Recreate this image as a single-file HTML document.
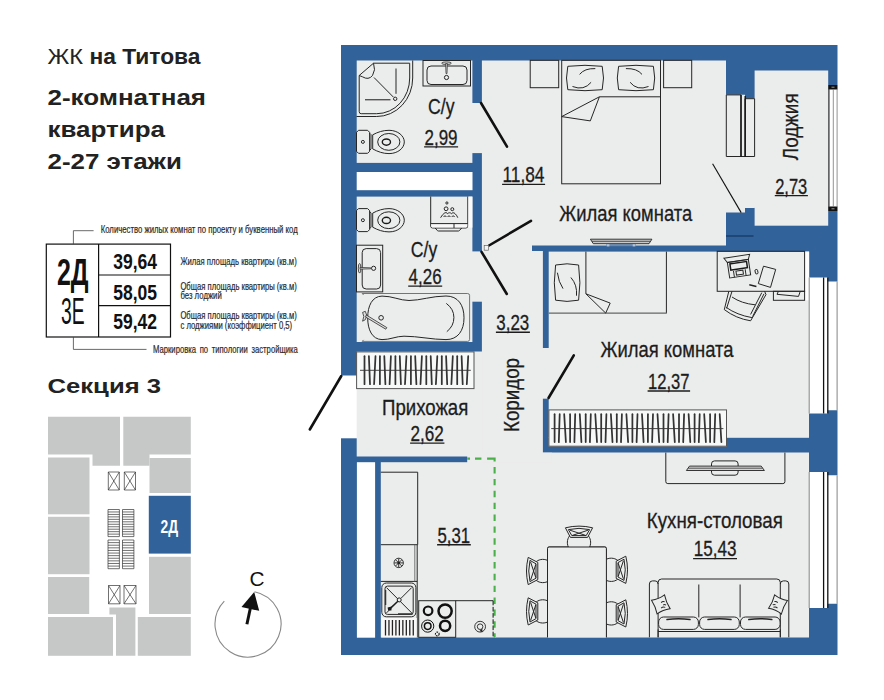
<!DOCTYPE html>
<html lang="ru">
<head>
<meta charset="utf-8">
<title>ЖК на Титова — 2-комнатная квартира</title>
<style>
html,body{margin:0;padding:0;background:#fff;}
body{width:884px;height:700px;overflow:hidden;font-family:"Liberation Sans",sans-serif;}
svg{display:block;}
text{font-family:"Liberation Sans",sans-serif;}
.w{fill:#31629a;}
.f{fill:#ebecec;}
.wh{fill:#fff;}
.ln{fill:none;stroke:#262626;stroke-width:1;}
.lt{fill:none;stroke:#555;stroke-width:0.8;}
.lf{fill:#ebecec;stroke:#262626;stroke-width:1;}
.lw{fill:#f7f8f8;stroke:#555;stroke-width:1;}
.dr{stroke:#111;stroke-width:2.6;stroke-linecap:round;fill:none;}
.rt{fill:#1c1c1c;stroke:#1c1c1c;stroke-width:0.3;}
.gr{fill:#c6c8c8;}
.hd{fill:#222;}
.tb{fill:#111;}
.sm{fill:#2a2a2a;stroke:#2a2a2a;stroke-width:0.2;}
.hg{stroke:#333;stroke-width:1.75;stroke-linecap:round;fill:none;}
</style>
</head>
<body>
<svg width="884" height="700" viewBox="0 0 884 700">
<rect width="884" height="700" fill="#fff"/>
<!-- ===== WALLS ===== -->
<g id="walls">
<rect class="w" x="341" y="45" width="496.5" height="610"/>
</g>
<!-- ===== FLOORS ===== -->
<g id="floors">
<rect class="wh" x="340" y="375.5" width="17.2" height="62.8"/>
<rect class="f" x="356.7" y="60.5" width="115.7" height="102.4"/>
<rect class="f" x="472" y="103" width="10.5" height="50.1"/>
<rect class="wh" x="356.7" y="172" width="115.8" height="18.2"/>
<rect class="f" x="356.7" y="196.6" width="115.7" height="145.4"/>
<rect class="f" x="472" y="251.4" width="10.5" height="50.3"/>
<rect class="f" x="481.9" y="60.5" width="244.1" height="185"/>
<rect class="f" x="481.9" y="251" width="61" height="209"/>
<rect class="f" x="481.9" y="245" width="50.1" height="8"/>
<rect class="f" x="356.7" y="351.5" width="126" height="105"/>
<rect class="wh" x="356.9" y="462.2" width="18.2" height="175.5"/>
<rect class="f" x="380.8" y="462.2" width="115" height="175.3"/>
<rect class="f" x="467.2" y="455" width="29" height="10"/>
<rect class="f" x="495" y="452.5" width="314" height="185"/>
<rect class="f" x="481.9" y="452.7" width="70" height="10"/>
<rect class="f" x="548.7" y="251.6" width="260.3" height="186.2"/>
<rect class="f" x="548.7" y="437" width="178" height="9.5"/>
<rect class="f" x="542" y="348" width="9" height="50.7"/>
<rect class="f" x="754.6" y="70.5" width="73.6" height="155.2"/>
<path class="f" d="M726,94.8H745V98.6H754.8V208H745V212.4H726Z"/>
<rect class="wh" x="804.6" y="251.6" width="4.6" height="48.7"/>
<rect class="f" x="753" y="99" width="3" height="108.6"/>
<line x1="726" y1="236" x2="753.5" y2="236" stroke="#0d2c55" stroke-width="1"/>
</g>
<!-- ===== WINDOWS ===== -->
<g id="windows">
<rect class="wh" x="828.2" y="85" width="11" height="126"/>
<rect x="828.2" y="85" width="9.3" height="4.5" fill="#111"/>
<rect x="828.2" y="206.5" width="9.3" height="4.5" fill="#111"/>
<rect x="831.5" y="86.7" width="3" height="1" fill="#999"/>
<rect x="831.5" y="208.3" width="3" height="1" fill="#999"/>
<line x1="828.9" y1="89" x2="828.9" y2="207" stroke="#444" stroke-width="1.4"/>
<line x1="833.3" y1="89" x2="833.3" y2="207" stroke="#777" stroke-width="0.8"/>
<line x1="837.1" y1="89" x2="837.1" y2="207" stroke="#777" stroke-width="0.8"/>
<path class="wh" d="M809,277.5H827.5V281.5H839V410.3H827.5V413.5H809Z"/>
<line x1="809.2" y1="277.5" x2="809.2" y2="413.5" stroke="#777" stroke-width="0.9"/>
<line x1="823.6" y1="277.5" x2="823.6" y2="413.5" stroke="#111" stroke-width="1.3"/>
<line x1="827.8" y1="277.5" x2="827.8" y2="413.5" stroke="#111" stroke-width="1.3"/>
<line x1="837.1" y1="281.5" x2="837.1" y2="410.3" stroke="#777" stroke-width="0.9"/>
<path class="wh" d="M809,472H827.5V475.3H839V603.8H827.5V608H809Z"/>
<line x1="809.2" y1="472" x2="809.2" y2="608" stroke="#777" stroke-width="0.9"/>
<line x1="823.6" y1="472" x2="823.6" y2="608" stroke="#111" stroke-width="1.3"/>
<line x1="827.8" y1="472" x2="827.8" y2="608" stroke="#111" stroke-width="1.3"/>
<line x1="837.1" y1="475.3" x2="837.1" y2="603.8" stroke="#777" stroke-width="0.9"/>
</g>
<!-- ===== DOORS ===== -->
<g id="doors">
<line class="dr" x1="341.3" y1="376" x2="309.8" y2="429.5"/>
<line class="dr" x1="481" y1="103" x2="507" y2="146.7"/>
<line class="dr" x1="489" y1="245.5" x2="531" y2="220.8"/>
<line class="dr" x1="481.5" y1="251.8" x2="506.8" y2="294"/>
<rect x="484.2" y="245.6" width="4.4" height="4.6" fill="#f4f4f4" stroke="#666" stroke-width="0.7"/>
<line class="dr" x1="548.5" y1="398" x2="573.8" y2="355.3"/>
<line x1="712.6" y1="163.8" x2="741.2" y2="212.6" stroke="#111" stroke-width="1.1"/>
<path class="lf" d="M726.3,94.9H741V156.5H726.3Z"/>
<path class="lf" d="M745,98.7H754.6V156.5H745Z"/>
<line x1="741" y1="94.9" x2="741" y2="156.5" stroke="#111" stroke-width="1.4"/>
<line x1="745.2" y1="96" x2="745.2" y2="156.5" stroke="#111" stroke-width="1.4"/>
<line x1="741" y1="156.5" x2="745.2" y2="156.5" stroke="#111" stroke-width="0.9"/>
</g>
<!-- ===== FURNITURE: bath 1 ===== -->
<g id="bath1">
<path class="ln" d="M412.7,60.5V78A36,38.5 0 0 1 376.7,116.5H356.5"/>
<path class="ln" d="M409.7,63.2V78A33,35.7 0 0 1 376.7,113.7H361.2Q359.2,113.7 359.2,111.7V75.5L373.5,63.2Z"/>
<path class="ln" d="M373.5,63.2Q376,70 372.5,75.5Q368.5,80.5 362.5,76.8L359.2,75.5"/>
<line class="ln" x1="374" y1="77.5" x2="393.3" y2="97"/>
<line class="ln" x1="396" y1="68.5" x2="396" y2="93.8"/>
<line x1="365" y1="99.7" x2="390.5" y2="99.7" stroke="#555" stroke-width="1.4"/>
<circle class="ln" cx="395.2" cy="98.8" r="1.7"/>
<rect class="ln" x="423" y="60.5" width="47.5" height="25.5"/>
<rect class="ln" x="427" y="66" width="40" height="18.5" rx="4" ry="4"/>
<ellipse cx="446.5" cy="63.2" rx="4.8" ry="1.3" fill="#ddd" stroke="#2a2a2a" stroke-width="0.8"/>
<path d="M445.6,63.5L446,73.6H447L447.4,63.5Z" fill="#ccc" stroke="#2a2a2a" stroke-width="0.7"/>
<circle class="ln" cx="446.5" cy="77.5" r="2.1"/>
</g>
<g id="toilets">
<g transform="translate(0,0.0)">
<path class="ln" d="M358.5,130.3H367.6L369.6,132.3V151.3L367.6,153.3H358.5L356.5,151.3V132.3Z"/>
<circle class="ln" cx="362.9" cy="141.9" r="1.5" stroke-width="0.8"/>
<path class="ln" d="M369.6,133.2L371,134.6V149L369.6,150.4M372.7,134.8V148.9"/>
<path class="ln" d="M372.7,134.8C378,132 383,130.3 389,130.3C398,130.3 404.3,136 404.3,141.9C404.3,148 398,153.6 389,153.6C383,153.6 378,151.8 372.7,148.9"/>
<ellipse class="ln" cx="388.8" cy="141.9" rx="11.1" ry="8.4"/>
<ellipse cx="386.4" cy="142.1" rx="4.1" ry="3.1" fill="none" stroke="#1a1a1a" stroke-width="1.4"/>
</g>
<g transform="translate(0,78.3)">
<path class="ln" d="M358.5,130.3H367.6L369.6,132.3V151.3L367.6,153.3H358.5L356.5,151.3V132.3Z"/>
<circle class="ln" cx="362.9" cy="141.9" r="1.5" stroke-width="0.8"/>
<path class="ln" d="M369.6,133.2L371,134.6V149L369.6,150.4M372.7,134.8V148.9"/>
<path class="ln" d="M372.7,134.8C378,132 383,130.3 389,130.3C398,130.3 404.3,136 404.3,141.9C404.3,148 398,153.6 389,153.6C383,153.6 378,151.8 372.7,148.9"/>
<ellipse class="ln" cx="388.8" cy="141.9" rx="11.1" ry="8.4"/>
<ellipse cx="386.4" cy="142.1" rx="4.1" ry="3.1" fill="none" stroke="#1a1a1a" stroke-width="1.4"/>
</g>
</g>
<!-- ===== bath 2 ===== -->
<g id="bath2">
<path class="ln" d="M430.7,196.5V226Q430.7,228 432.7,228H465.8Q467.8,228 467.8,226V196.5"/>
<path d="M431.2,223.6H467.3V226.4L466.4,227.6H432.2L431.2,226.4Z" fill="#f9f9f9"/>
<line class="ln" x1="430.7" y1="223.6" x2="467.8" y2="223.6"/>
<line class="ln" x1="454" y1="223.6" x2="454" y2="228"/>
<path class="ln" d="M435.2,228L437.4,230.6Q437.8,231 438.4,231H458.4Q459,231 459.4,230.6L461.7,228"/>
<rect x="468.4" y="196.6" width="4" height="31" fill="#fafafa"/>
<circle class="ln" cx="446.9" cy="203" r="1.1" stroke-width="0.8"/>
<circle class="ln" cx="446.1" cy="208.8" r="1.9" stroke-width="0.8"/>
<circle class="ln" cx="452.3" cy="209.2" r="1.5" stroke-width="0.8"/>
<path class="ln" stroke-width="0.85" d="M440.6,217.7Q442.3,214.6 444,213.5A2.3,2.3 0 0 1 447.7,213.7A2.3,2.3 0 0 1 451.4,213.7A2.3,2.3 0 0 1 455,213.6Q456.6,215 457.8,217.7"/>
<path class="ln" stroke-width="0.85" d="M443.6,216.9A1.5,1.5 0 0 1 446.4,216.9M447.6,216.9A1.5,1.5 0 0 1 450.4,216.9M451.8,216.9A1.5,1.5 0 0 1 454.6,216.9"/>
<rect class="ln" x="356.5" y="245.2" width="26.2" height="46.7"/>
<rect class="ln" x="362.2" y="248.6" width="18.4" height="40.4" rx="4" ry="4"/>
<ellipse cx="359.6" cy="268.3" rx="1.3" ry="4.8" fill="#ddd" stroke="#2a2a2a" stroke-width="0.8"/>
<path d="M360,267.4L370.8,267.8V268.8L360,269.2Z" fill="#ccc" stroke="#2a2a2a" stroke-width="0.7"/>
<circle class="ln" cx="373.6" cy="268.3" r="2.1"/>
<path class="lt" d="M362.2,293.5H467.6Q469.6,293.5 469.6,295.5V339.4Q469.6,341.4 467.6,341.4H362.2M362.2,293.5L363.6,295M362.2,341.4L363.6,339.9"/>
<path class="ln" d="M367.7,317.8C367.7,306 372,296.3 382,296.1C392,295.9 400,300.5 409,300.5C420,300.5 432,296 446,296C458,296 464,305 464,317.8C464,330.6 458,339.6 446,339.6C432,339.6 418,336.2 404,336.2C396,336.2 390,339.8 382,339.6C372,339.4 367.7,329.6 367.7,317.8Z"/>
<path class="ln" d="M446.3,303.4Q453.9,309 453.9,317.5Q453.9,326 446.8,331.7"/>
<circle class="ln" cx="381.1" cy="317.8" r="2.3"/>
<path d="M362.6,312.4L365.3,311.3L366.8,315.5L365.3,319.7L362.6,321.2L363.8,316.5Z" fill="#ddd" stroke="#2a2a2a" stroke-width="0.8"/>
<path d="M366.3,315L386.8,327.6L385.8,329.2L365.6,317Z" fill="#ddd" stroke="#2a2a2a" stroke-width="0.8"/>
</g>
<!-- ===== wardrobes ===== -->
<g id="wardrobes">
<rect class="lw" x="356.6" y="351.9" width="117.4" height="36.7"/>
<line x1="360" y1="370.3" x2="470.8" y2="370.3" stroke="#333" stroke-width="0.9"/>
<g class="hg"><line x1="364.5" y1="356.2" x2="364.5" y2="384.2"/><line x1="368.9" y1="356.2" x2="370.0" y2="384.2"/><line x1="375.5" y1="356.2" x2="374.1" y2="384.2"/><line x1="379.9" y1="356.2" x2="379.9" y2="384.2"/><line x1="384.3" y1="356.2" x2="385.4" y2="384.2"/><line x1="390.9" y1="356.2" x2="389.6" y2="384.2"/><line x1="395.4" y1="356.2" x2="395.4" y2="384.2"/><line x1="399.8" y1="356.2" x2="400.9" y2="384.2"/><line x1="406.4" y1="356.2" x2="405.0" y2="384.2"/><line x1="410.9" y1="356.2" x2="410.9" y2="384.2"/><line x1="415.2" y1="356.2" x2="416.4" y2="384.2"/><line x1="421.9" y1="356.2" x2="420.5" y2="384.2"/><line x1="426.3" y1="356.2" x2="426.3" y2="384.2"/><line x1="430.7" y1="356.2" x2="431.8" y2="384.2"/><line x1="437.3" y1="356.2" x2="435.9" y2="384.2"/><line x1="441.8" y1="356.2" x2="441.8" y2="384.2"/><line x1="446.1" y1="356.2" x2="447.2" y2="384.2"/><line x1="452.8" y1="356.2" x2="451.4" y2="384.2"/><line x1="457.2" y1="356.2" x2="457.2" y2="384.2"/><line x1="461.6" y1="356.2" x2="462.7" y2="384.2"/><line x1="468.2" y1="356.2" x2="466.8" y2="384.2"/></g>
<rect class="lw" x="548.9" y="409.9" width="177.6" height="36.3"/>
<line x1="551.2" y1="428.6" x2="723.4" y2="428.6" stroke="#333" stroke-width="0.9"/>
<g class="hg"><line x1="554.6" y1="414.2" x2="554.6" y2="442.1"/><line x1="559.7" y1="414.2" x2="558.8" y2="442.1"/><line x1="564.2" y1="414.2" x2="565.9" y2="442.1"/><line x1="570.1" y1="414.2" x2="570.1" y2="442.1"/><line x1="575.2" y1="414.2" x2="574.4" y2="442.1"/><line x1="579.8" y1="414.2" x2="581.4" y2="442.1"/><line x1="585.7" y1="414.2" x2="585.7" y2="442.1"/><line x1="590.8" y1="414.2" x2="589.9" y2="442.1"/><line x1="595.3" y1="414.2" x2="597.0" y2="442.1"/><line x1="601.2" y1="414.2" x2="601.2" y2="442.1"/><line x1="606.4" y1="414.2" x2="605.5" y2="442.1"/><line x1="610.9" y1="414.2" x2="612.5" y2="442.1"/><line x1="616.8" y1="414.2" x2="616.8" y2="442.1"/><line x1="621.9" y1="414.2" x2="621.0" y2="442.1"/><line x1="626.4" y1="414.2" x2="628.1" y2="442.1"/><line x1="632.4" y1="414.2" x2="632.4" y2="442.1"/><line x1="637.5" y1="414.2" x2="636.6" y2="442.1"/><line x1="642.0" y1="414.2" x2="643.6" y2="442.1"/><line x1="647.9" y1="414.2" x2="647.9" y2="442.1"/><line x1="653.0" y1="414.2" x2="652.1" y2="442.1"/><line x1="657.5" y1="414.2" x2="659.2" y2="442.1"/><line x1="663.5" y1="414.2" x2="663.5" y2="442.1"/><line x1="668.6" y1="414.2" x2="667.7" y2="442.1"/><line x1="673.1" y1="414.2" x2="674.8" y2="442.1"/><line x1="679.0" y1="414.2" x2="679.0" y2="442.1"/><line x1="684.1" y1="414.2" x2="683.2" y2="442.1"/><line x1="688.6" y1="414.2" x2="690.3" y2="442.1"/><line x1="694.6" y1="414.2" x2="694.6" y2="442.1"/><line x1="699.7" y1="414.2" x2="698.8" y2="442.1"/><line x1="704.2" y1="414.2" x2="705.9" y2="442.1"/><line x1="710.1" y1="414.2" x2="710.1" y2="442.1"/><line x1="715.2" y1="414.2" x2="714.3" y2="442.1"/><line x1="719.7" y1="414.2" x2="721.4" y2="442.1"/></g>
</g>
<!-- ===== room 1 ===== -->
<g id="room1">
<rect class="ln" x="530.2" y="60.3" width="28.5" height="27.4"/>
<rect class="ln" x="663.6" y="60.3" width="28.1" height="27.4"/>
<rect class="ln" x="561.7" y="60.3" width="98.8" height="123.5"/>
<path class="ln" d="M567.8,66.3Q585.0,64.3 602.2,66.3Q604.8,78.0 602.2,89.7Q585.0,91.7 567.8,89.7Q565.2,78.0 567.8,66.3Z"/>
<path class="ln" d="M618.6,66.3Q636.0,64.3 653.4,66.3Q656.0,78.0 653.4,89.7Q636.0,91.7 618.6,89.7Q616.0,78.0 618.6,66.3Z"/>
<path class="ln" d="M579.6,74.4Q584.5,68.2 595.3,68.6M572.5,86.5Q584,91 591.1,82.3"/>
<path class="ln" d="M642,74.4Q637,68.2 625.9,68.6M648.5,86.5Q637,91 630.1,82.3"/>
<path class="ln" d="M660.5,96.8H599.4L561.7,116.6L590.3,120.9L599.4,96.8"/>
<path d="M590.4,239.2H651.9L649,243.7H593.3Z" fill="#c9c9c9" stroke="#222" stroke-width="0.9" stroke-linejoin="round"/>
<line x1="592" y1="241.3" x2="650.4" y2="241.3" stroke="#333" stroke-width="0.8"/>
<rect x="606.3" y="244" width="29.5" height="2.2" fill="#6e89a8"/>
<rect x="606.8" y="244.2" width="2.6" height="2.2" fill="#b9c4d2"/><rect x="632.7" y="244.2" width="2.6" height="2.2" fill="#b9c4d2"/>
</g>
<!-- ===== room 2 ===== -->
<g id="room2">
<path class="ln" d="M666.4,251.6V313.1"/>
<line x1="548.7" y1="313.1" x2="666.8" y2="313.1" stroke="#666" stroke-width="1.1"/>
<path class="ln" d="M585.9,251.6V293.8M585.9,293.8L610.2,303.1L605.7,313.1Z"/>
<path class="ln" d="M555.6,265Q567,262.6 578.6,265Q581.2,283 578.6,300.2Q567,302.6 555.6,300.2Q553,283 555.6,265Z"/>
<path class="ln" d="M557.4,272.7Q558.5,282 563,288.6M570.9,277.5Q577.5,285 576.5,295.7"/>
<rect class="ln" x="717.2" y="251.3" width="87.4" height="40"/>
<g transform="rotate(-8.5 738 266)">
<path class="ln" d="M725.2,256.2L751.2,256.2L749.2,261L728,261Z"/>
<rect class="ln" x="728" y="261" width="21.2" height="15.6"/>
<rect x="730.3" y="262.8" width="16.8" height="6.2" fill="#ebecec" stroke="#1a1a1a" stroke-width="1.5"/>
<rect class="ln" x="735.2" y="270.8" width="7" height="4" stroke-width="0.8"/>
<line class="ln" x1="732.8" y1="270.3" x2="732.8" y2="276.6" stroke-width="0.7"/><line class="ln" x1="744.6" y1="270.3" x2="744.6" y2="276.6" stroke-width="0.7"/>
</g>
<rect x="755.2" y="269.5" width="2.6" height="4.4" rx="1" fill="none" stroke="#1a1a1a" stroke-width="0.9" transform="rotate(-12 756.5 271.7)"/>
<path class="ln" d="M763.5,266.2L775.7,269.4L770.5,287.4L758.3,283.6Z"/>
<line x1="749.3" y1="284.8" x2="756.4" y2="286.4" stroke="#222" stroke-width="1.5"/>
<rect class="ln" x="773.4" y="291.3" width="31.2" height="9"/>
<path class="ln" d="M778.2,291.8L777,294.3L798.5,296.4L800.1,291.8" stroke-width="0.8"/>
<path class="ln" d="M728.8,291.3L724.3,309.6Q736,318.5 750.6,320.8L766,294.6L764.6,291.3"/>
<path class="ln" d="M732,297Q741.5,303.5 755.1,304.8M726.2,307.4Q737,315 751.9,317.6M732,291.3L726.6,308.4"/>
<path class="ln" d="M764,293.8L752.6,316.6M761.8,292.6L750.6,314.4"/>
</g>
<!-- ===== kitchen ===== -->
<g id="kitchen">
<path d="M467.2,458.6H470M475,458.6H481.4M487.1,458.6H494.6V461.6" fill="none" stroke="#4bb04a" stroke-width="2.1" stroke-linejoin="miter"/>
<path d="M494.6,467.1V637.4" fill="none" stroke="#4bb04a" stroke-width="2.1" stroke-dasharray="6.4 5.46"/>
<path class="ln" d="M380.8,472.2H417.7V544.7H380.8"/>
<path class="ln" d="M417.2,544.7V637.3M380.8,581.4H417.2" />
<line class="lt" x1="414.8" y1="544.7" x2="414.8" y2="581.4"/>
<path d="M394.30,562.90L403.10,562.90M395.59,559.79L401.81,566.01M398.70,558.50L398.70,567.30M401.81,559.79L395.59,566.01" stroke="#222" stroke-width="0.9" fill="none"/>
<circle cx="398.7" cy="562.9" r="4.7" fill="none" stroke="#222" stroke-width="0.9"/>
<circle cx="398.7" cy="562.9" r="1.3" fill="#222"/>
<rect class="ln" x="381.8" y="583" width="34.1" height="33.8" rx="4.5" ry="4.5" stroke-width="1.1"/>
<rect class="ln" x="385" y="586.1" width="28.2" height="28.3" rx="2.5" ry="2.5"/>
<path class="ln" d="M386.5,587.6L411.7,612.9M411.7,587.6L401,598.3M397.3,602L386.5,612.9" stroke-width="0.8"/>
<path d="M385.6,590V605M398,614H412.6" stroke="#333" stroke-width="1.3" fill="none"/>
<circle cx="399.2" cy="599.9" r="2" fill="#ebecec" stroke="#1a1a1a" stroke-width="1"/>
<line x1="397.8" y1="601.3" x2="390" y2="608.4" stroke="#1a1a1a" stroke-width="1.3"/>
<path d="M387.6,607.4L391.6,606.6L391.4,610.6L388.2,610.6Z" fill="#1a1a1a"/>
<rect x="381.4" y="618" width="35.4" height="19.4" fill="#f8f8f8"/>
<path d="M385.50,620V635.6M388.97,620V635.6M392.44,620V635.6M395.91,620V635.6M399.38,620V635.6M402.85,620V635.6M406.32,620V635.6M409.79,620V635.6M413.26,620V635.6" stroke="#222" stroke-width="1.3" fill="none"/>
<rect class="ln" x="418.7" y="600.7" width="37" height="36.6"/>
<circle cx="428.1" cy="610.8" r="4.3" fill="none" stroke="#111" stroke-width="2.2"/>
<circle cx="445.1" cy="611.1" r="6.6" fill="none" stroke="#111" stroke-width="2.5"/>
<circle cx="427.7" cy="626.1" r="6.1" fill="none" stroke="#111" stroke-width="1"/>
<circle cx="427.7" cy="626.1" r="3.3" fill="none" stroke="#111" stroke-width="1.5"/>
<circle cx="445.1" cy="625.8" r="5.1" fill="none" stroke="#111" stroke-width="2.5"/>
<circle cx="437.3" cy="634" r="1.9" fill="#ebecec" stroke="#111" stroke-width="1.1" stroke-dasharray="1.6 0.8"/>
<path class="ln" d="M455.7,600.7H493.1"/>
<line x1="493.1" y1="600.7" x2="493.1" y2="637.3" stroke="#111" stroke-width="1" stroke-dasharray="4.6 1.6"/>
<circle cx="480.1" cy="626.7" r="5.4" fill="none" stroke="#222" stroke-width="0.9"/>
<circle cx="480.1" cy="626.7" r="2.8" fill="none" stroke="#222" stroke-width="0.9"/>
<path d="M482.2,628.6L482.6,632.2L479.6,631Z" fill="#222"/>
<path class="lf" d="M547.5,637.3V548.6Q547.5,547 549.1,547H604.8Q606.4,547 606.4,548.6V637.3"/>
<g transform="translate(579.0,526.2) rotate(0)">
<path class="lf" d="M-10.6,21C-12.6,16.5 -11.6,11.5 -8.4,8.6H8.4C11.6,11.5 12.6,16.5 10.6,21"/>
<path class="lf" d="M-13.6,1.6Q0,-1.8 13.6,1.6L8.6,11.2H-8.6Z"/>
<path class="ln" d="M-10.6,3.4Q0,0.9 10.6,3.4L7.2,9.4H-7.2Z" stroke-width="0.8"/>
<path class="ln" d="M-9,4L6.6,9.2M9,4L-6.6,9.2" stroke-width="0.7"/>
</g>
<g transform="translate(526.6,571.0) rotate(-90)">
<path class="lf" d="M-10.6,21C-12.6,16.5 -11.6,11.5 -8.4,8.6H8.4C11.6,11.5 12.6,16.5 10.6,21"/>
<path class="lf" d="M-13.6,1.6Q0,-1.8 13.6,1.6L8.6,11.2H-8.6Z"/>
<path class="ln" d="M-10.6,3.4Q0,0.9 10.6,3.4L7.2,9.4H-7.2Z" stroke-width="0.8"/>
<path class="ln" d="M-9,4L6.6,9.2M9,4L-6.6,9.2" stroke-width="0.7"/>
</g>
<g transform="translate(526.6,611.4) rotate(-90)">
<path class="lf" d="M-10.6,21C-12.6,16.5 -11.6,11.5 -8.4,8.6H8.4C11.6,11.5 12.6,16.5 10.6,21"/>
<path class="lf" d="M-13.6,1.6Q0,-1.8 13.6,1.6L8.6,11.2H-8.6Z"/>
<path class="ln" d="M-10.6,3.4Q0,0.9 10.6,3.4L7.2,9.4H-7.2Z" stroke-width="0.8"/>
<path class="ln" d="M-9,4L6.6,9.2M9,4L-6.6,9.2" stroke-width="0.7"/>
</g>
<g transform="translate(627.4,569.8) rotate(90)">
<path class="lf" d="M-10.6,21C-12.6,16.5 -11.6,11.5 -8.4,8.6H8.4C11.6,11.5 12.6,16.5 10.6,21"/>
<path class="lf" d="M-13.6,1.6Q0,-1.8 13.6,1.6L8.6,11.2H-8.6Z"/>
<path class="ln" d="M-10.6,3.4Q0,0.9 10.6,3.4L7.2,9.4H-7.2Z" stroke-width="0.8"/>
<path class="ln" d="M-9,4L6.6,9.2M9,4L-6.6,9.2" stroke-width="0.7"/>
</g>
<g transform="translate(627.4,613.4) rotate(90)">
<path class="lf" d="M-10.6,21C-12.6,16.5 -11.6,11.5 -8.4,8.6H8.4C11.6,11.5 12.6,16.5 10.6,21"/>
<path class="lf" d="M-13.6,1.6Q0,-1.8 13.6,1.6L8.6,11.2H-8.6Z"/>
<path class="ln" d="M-10.6,3.4Q0,0.9 10.6,3.4L7.2,9.4H-7.2Z" stroke-width="0.8"/>
<path class="ln" d="M-9,4L6.6,9.2M9,4L-6.6,9.2" stroke-width="0.7"/>
</g>
<path class="lf" d="M547.5,637.3V548.6Q547.5,547 549.1,547H604.8Q606.4,547 606.4,548.6V637.3"/>
<path class="ln" d="M665.8,452.6V481.6Q665.8,483.6 667.8,483.6H782.9Q784.9,483.6 784.9,481.6V452.6"/>
<rect class="ln" x="711.5" y="460.9" width="26.6" height="14.3" rx="3" ry="3"/>
<path d="M689.5,466.1H761.2L764.4,470.5H686.4Z" fill="#d4d4d4" stroke="#222" stroke-width="0.9" stroke-linejoin="round"/>
<line x1="688.3" y1="468.2" x2="762.6" y2="468.2" stroke="#333" stroke-width="0.8"/>
<path class="ln" d="M649.4,637.3V584Q649.4,580.9 652.4,580.9H655.1Q658.1,580.9 658.1,584"/>
<path class="ln" d="M788.8,637.3V584Q788.8,580.9 785.8,580.9H783.3Q780.3,580.9 780.3,584"/>
<path class="ln" d="M658.1,637.3V582.5Q658.1,579 661.6,579H776.8Q780.3,579 780.3,582.5V637.3"/>
<path class="ln" d="M698.8,584.5V617.4M740.1,584.5V617.4"/>
<rect class="lf" x="658.6" y="617" width="39.8" height="12.4" rx="5" ry="5"/>
<path d="M667.0,619.6Q678.5,617.9 690.0,619.6" fill="none" stroke="#222" stroke-width="1.5" stroke-linecap="round"/>
<rect class="lf" x="699.6" y="617" width="39.7" height="12.4" rx="5" ry="5"/>
<path d="M708.0,619.6Q719.5,617.9 731.0,619.6" fill="none" stroke="#222" stroke-width="1.5" stroke-linecap="round"/>
<rect class="lf" x="740.5" y="617" width="39.6" height="12.4" rx="5" ry="5"/>
<path d="M748.8,619.6Q760.3,617.9 771.8,619.6" fill="none" stroke="#222" stroke-width="1.5" stroke-linecap="round"/>
<path class="ln" d="M658.1,629.4V637.3M780.3,629.4V637.3M658.1,631.5H780.3"/>
<g transform="translate(660.8,604.4) rotate(-22)"><path class="lf" d="M-7,-7.4Q0,-5.6 7,-7.4Q5.6,0 7,7.4Q0,5.6 -7,7.4Q-5.6,0 -7,-7.4Z"/><path class="ln" d="M1,-1.5Q3,-2.5 4.5,-1M2,1.5Q3.5,1 4.6,2.6M-1,3.6Q1,2.6 3,4.4" stroke-width="0.7"/></g>
<g transform="translate(778,604.4) rotate(24)"><path class="lf" d="M-7,-7.4Q0,-5.6 7,-7.4Q5.6,0 7,7.4Q0,5.6 -7,7.4Q-5.6,0 -7,-7.4Z"/><path class="ln" d="M-1,-1.5Q-3,-2.5 -4.5,-1M-2,1.5Q-3.5,1 -4.6,2.6M1,3.6Q-1,2.6 -3,4.4" stroke-width="0.7"/></g>
</g>
<!-- ===== ROOM LABELS ===== -->
<g id="labels">
<text class="rt" x="428.0" y="114.0" font-size="22.0" textLength="26.5" lengthAdjust="spacingAndGlyphs">С/у</text>
<text class="rt" x="424.5" y="145.0" font-size="21.4" textLength="33.0" lengthAdjust="spacingAndGlyphs">2,99</text>
<line x1="424.1" y1="146.9" x2="458.1" y2="146.9" stroke="#1c1c1c" stroke-width="1.4"/>
<text class="rt" x="502.5" y="182.0" font-size="21.4" textLength="42.0" lengthAdjust="spacingAndGlyphs">11,84</text>
<line x1="502.1" y1="184.4" x2="545.1" y2="184.4" stroke="#1c1c1c" stroke-width="1.4"/>
<text class="rt" x="559.3" y="220.5" font-size="22.0" textLength="132.9" lengthAdjust="spacingAndGlyphs">Жилая комната</text>
<text class="rt" x="496.3" y="330.0" font-size="21.4" textLength="33.0" lengthAdjust="spacingAndGlyphs">3,23</text>
<line x1="495.9" y1="332.2" x2="529.9" y2="332.2" stroke="#1c1c1c" stroke-width="1.4"/>
<text class="rt" transform="translate(518.8,432.0) rotate(-90)" x="0" y="0" font-size="22.0" textLength="74.0" lengthAdjust="spacingAndGlyphs">Коридор</text>
<text class="rt" x="382.0" y="415.0" font-size="22.0" textLength="86.3" lengthAdjust="spacingAndGlyphs">Прихожая</text>
<text class="rt" x="410.5" y="440.8" font-size="21.4" textLength="33.3" lengthAdjust="spacingAndGlyphs">2,62</text>
<line x1="410.1" y1="443.1" x2="444.4" y2="443.1" stroke="#1c1c1c" stroke-width="1.4"/>
<text class="rt" x="600.5" y="357.3" font-size="22.0" textLength="133.0" lengthAdjust="spacingAndGlyphs">Жилая комната</text>
<text class="rt" x="648.0" y="388.5" font-size="21.4" textLength="41.5" lengthAdjust="spacingAndGlyphs">12,37</text>
<line x1="647.6" y1="391.0" x2="690.1" y2="391.0" stroke="#1c1c1c" stroke-width="1.4"/>
<text class="rt" x="646.8" y="528.2" font-size="22.0" textLength="136.0" lengthAdjust="spacingAndGlyphs">Кухня-столовая</text>
<text class="rt" x="693.8" y="556.1" font-size="21.4" textLength="42.6" lengthAdjust="spacingAndGlyphs">15,43</text>
<line x1="693.1" y1="558.6" x2="737.0" y2="558.6" stroke="#1c1c1c" stroke-width="1.4"/>
<text class="rt" transform="translate(798.1,160.2) rotate(-90)" x="0" y="0" font-size="22.5" textLength="66.8" lengthAdjust="spacingAndGlyphs">Лоджия</text>
<text class="rt" x="775.2" y="193.6" font-size="21.4" textLength="32.1" lengthAdjust="spacingAndGlyphs">2,73</text>
<line x1="774.8" y1="195.6" x2="807.9" y2="195.6" stroke="#1c1c1c" stroke-width="1.4"/>
<text class="rt" x="437.5" y="542.7" font-size="21.4" textLength="32.7" lengthAdjust="spacingAndGlyphs">5,31</text>
<line x1="437.1" y1="544.7" x2="470.8" y2="544.7" stroke="#1c1c1c" stroke-width="1.4"/>
<text class="rt" x="408.6" y="284.0" font-size="21.4" textLength="33.0" lengthAdjust="spacingAndGlyphs">4,26</text>
<line x1="408.2" y1="286.1" x2="442.2" y2="286.1" stroke="#1c1c1c" stroke-width="1.4"/>
<text class="rt" x="410.8" y="256.6" font-size="22.0" textLength="26.5" lengthAdjust="spacingAndGlyphs">С/у</text>
</g>
<!-- ===== LEFT PANEL ===== -->
<g id="panel">
<text class="hd" x="47.5" y="63.8" font-size="22.5" textLength="35.5" lengthAdjust="spacingAndGlyphs">ЖК</text>
<text class="hd" x="89.5" y="63.8" font-size="22.5" font-weight="bold" textLength="111.0" lengthAdjust="spacingAndGlyphs">на Титова</text>
<text class="hd" x="47.5" y="105.0" font-size="22.5" font-weight="bold" textLength="158.5" lengthAdjust="spacingAndGlyphs">2-комнатная</text>
<text class="hd" x="47.5" y="137.0" font-size="22.5" font-weight="bold" textLength="117.5" lengthAdjust="spacingAndGlyphs">квартира</text>
<text class="hd" x="47.5" y="168.8" font-size="22.5" font-weight="bold" textLength="134.3" lengthAdjust="spacingAndGlyphs">2-27 этажи</text>
<text class="hd" x="47.5" y="392.5" font-size="21.0" font-weight="bold" textLength="113.5" lengthAdjust="spacingAndGlyphs">Секция 3</text>
<rect x="46.3" y="244.1" width="124.2" height="92.9" fill="#fff" stroke="#111" stroke-width="1.2"/>
<path d="M98.6,244.1V337M98.6,275H170.5M98.6,305.7H170.5" stroke="#111" stroke-width="1.2" fill="none"/>
<path d="M93.6,230.7H73.4V244.1M73.4,337V349.4H146.5" stroke="#444" stroke-width="0.8" fill="none"/>
<text class="tb" x="57.0" y="285.2" font-size="36.5" font-weight="bold" textLength="31.6" lengthAdjust="spacingAndGlyphs">2Д</text>
<text class="tb" x="61.0" y="323.6" font-size="36.0" textLength="23.6" lengthAdjust="spacingAndGlyphs">3Е</text>
<text class="tb" x="113.2" y="269.1" font-size="21.3" font-weight="bold" textLength="43.8" lengthAdjust="spacingAndGlyphs">39,64</text>
<text class="tb" x="113.2" y="299.5" font-size="21.3" font-weight="bold" textLength="43.8" lengthAdjust="spacingAndGlyphs">58,05</text>
<text class="tb" x="113.2" y="328.9" font-size="21.3" font-weight="bold" textLength="43.8" lengthAdjust="spacingAndGlyphs">59,42</text>
<text class="sm" x="100.7" y="233.4" font-size="10.3" textLength="197.1" lengthAdjust="spacingAndGlyphs">Количество жилых комнат по проекту и буквенный код</text>
<text class="sm" x="180.4" y="264.9" font-size="10.3" textLength="116.3" lengthAdjust="spacingAndGlyphs">Жилая площадь квартиры (кв.м)</text>
<text class="sm" x="180.4" y="289.8" font-size="10.3" textLength="116.3" lengthAdjust="spacingAndGlyphs">Общая площадь квартиры (кв.м)</text>
<text class="sm" x="180.4" y="299.1" font-size="10.3" textLength="41.4" lengthAdjust="spacingAndGlyphs">без лоджий</text>
<text class="sm" x="180.4" y="319.0" font-size="10.3" textLength="116.3" lengthAdjust="spacingAndGlyphs">Общая площадь квартиры (кв.м)</text>
<text class="sm" x="180.4" y="328.7" font-size="10.3" textLength="111.8" lengthAdjust="spacingAndGlyphs">с лоджиями (коэффициент 0,5)</text>
<text class="sm" x="153.0" y="352.5" font-size="10.3" textLength="144.8" lengthAdjust="spacingAndGlyphs" word-spacing="2">Маркировка по типологии застройщика</text>
</g>
<!-- ===== SECTION PLAN ===== -->
<g id="section">
<path class="gr" d="M48,416.8H120V465.8H92.5V454.4H48Z"/>
<path class="gr" d="M123.3,416.8H190.8V454.4H149.5V465.8H123.3Z"/>
<rect class="gr" x="149.5" y="458" width="41.3" height="35"/>
<rect x="148.8" y="495.8" width="42" height="57.8" fill="#31629a"/>
<rect class="gr" x="149" y="556.8" width="41.8" height="57.2"/>
<rect class="gr" x="48" y="457.5" width="41.5" height="56.8"/>
<rect class="gr" x="48" y="516.8" width="41.5" height="57.4"/>
<rect class="gr" x="48" y="577" width="41.2" height="37"/>
<rect class="gr" x="48" y="617" width="65" height="38.8"/>
<path class="gr" d="M109.4,607.5H135.4V655.8H116V614.5H109.4Z"/>
<rect class="gr" x="137.8" y="617" width="53" height="38.8"/>
<path d="M108.3,472.0h11.0v18.0h-11.0ZM108.3,472.0l11.0,18.0M119.3,472.0l-11.0,18.0" fill="#fff" stroke="#333" stroke-width="0.7"/>
<path d="M124.3,472.0h11.2v18.0h-11.2ZM124.3,472.0l11.2,18.0M135.5,472.0l-11.2,18.0" fill="#fff" stroke="#333" stroke-width="0.7"/>
<path d="M108.5,585.5h11.5v18.3h-11.5ZM108.5,585.5l11.5,18.3M120.0,585.5l-11.5,18.3" fill="#fff" stroke="#333" stroke-width="0.7"/>
<path d="M124.0,585.5h12.0v18.3h-12.0ZM124.0,585.5l12.0,18.3M136.0,585.5l-12.0,18.3" fill="#fff" stroke="#333" stroke-width="0.7"/>
<path d="M108.0,509.5h11.4v27.1h-11.4ZM108.0,511.96h11.4M108.0,514.43h11.4M108.0,516.89h11.4M108.0,519.35h11.4M108.0,521.82h11.4M108.0,524.28h11.4M108.0,526.75h11.4M108.0,529.21h11.4M108.0,531.67h11.4M108.0,534.14h11.4" fill="#fff" stroke="#333" stroke-width="0.7"/>
<path d="M122.5,509.5h11.4v27.1h-11.4ZM122.5,511.96h11.4M122.5,514.43h11.4M122.5,516.89h11.4M122.5,519.35h11.4M122.5,521.82h11.4M122.5,524.28h11.4M122.5,526.75h11.4M122.5,529.21h11.4M122.5,531.67h11.4M122.5,534.14h11.4" fill="#fff" stroke="#333" stroke-width="0.7"/>
<path d="M108.0,540.0h11.4v28.7h-11.4ZM108.0,542.61h11.4M108.0,545.22h11.4M108.0,547.83h11.4M108.0,550.44h11.4M108.0,553.05h11.4M108.0,555.65h11.4M108.0,558.26h11.4M108.0,560.87h11.4M108.0,563.48h11.4M108.0,566.09h11.4" fill="#fff" stroke="#333" stroke-width="0.7"/>
<path d="M122.5,540.0h11.4v28.7h-11.4ZM122.5,542.61h11.4M122.5,545.22h11.4M122.5,547.83h11.4M122.5,550.44h11.4M122.5,553.05h11.4M122.5,555.65h11.4M122.5,558.26h11.4M122.5,560.87h11.4M122.5,563.48h11.4M122.5,566.09h11.4" fill="#fff" stroke="#333" stroke-width="0.7"/>
<text x="160.6" y="532.6" font-size="18.2" font-weight="bold" fill="#fff" textLength="17.6" lengthAdjust="spacingAndGlyphs">2Д</text>
</g>
<!-- ===== COMPASS ===== -->
<g id="compass">
<path d="M224.3,601.1A33,33 0 1 0 254.5,591.7" fill="none" stroke="#888" stroke-width="1.1"/>
<line x1="246.9" y1="624.2" x2="250.4" y2="608" stroke="#111" stroke-width="3"/>
<path d="M254.2,592L259.2,610.8L241.5,607.1Z" fill="#111"/>
<text x="249.6" y="585.7" font-size="20.5" fill="#111" textLength="15" lengthAdjust="spacingAndGlyphs">С</text>
</g>
</svg>
</body>
</html>
